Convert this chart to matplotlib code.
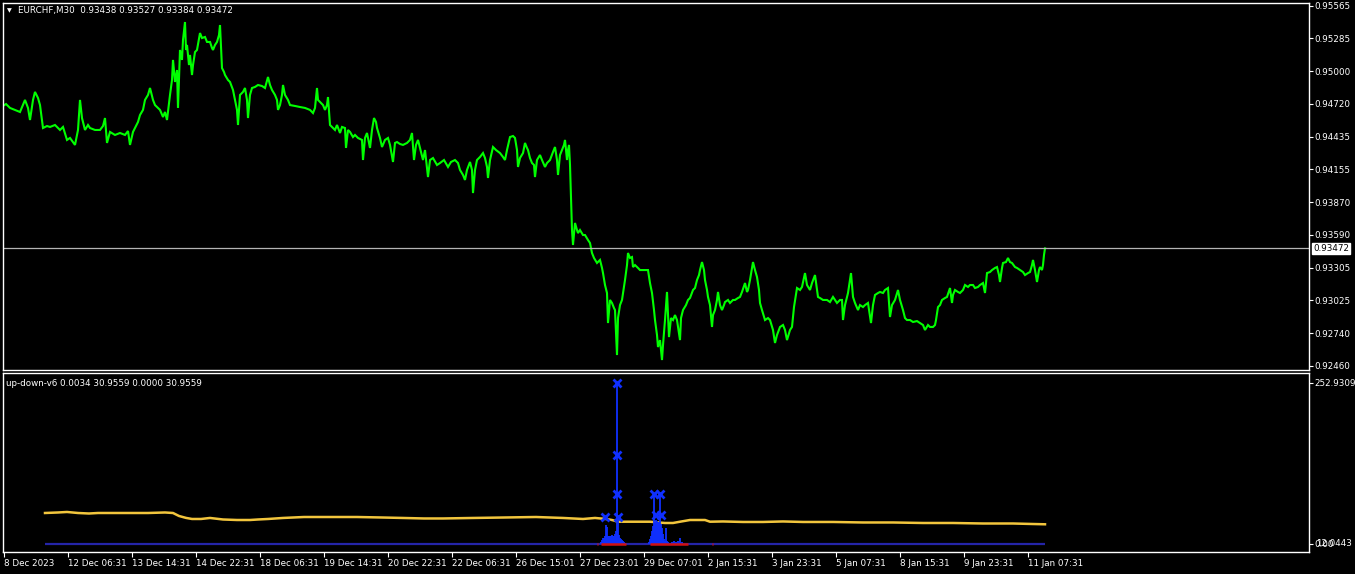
import matplotlib
matplotlib.use("Agg")
import matplotlib.pyplot as plt
from matplotlib.transforms import blended_transform_factory

# ---------------- data ----------------
price_bar = [0,3,7,12,17,22,25,27,30,32,35,37,40,44,47,52,57,60,64,67,72,75,77,79,82,85,87,92,97,100,102,104,107,112,117,122,125,127,130,132,135,137,140,142,145,147,150,152,155,157,160,162,164,167,169,170,172,174,175,177,179,180,182,183,184,186,187,189,190,192,194,197,199,202,204,207,209,210,212,214,216,217,219,221,222,225,227,230,232,234,235,237,240,242,244,245,247,249,252,255,259,262,265,267,269,272,274,275,277,279,280,282,285,287,292,297,302,307,310,312,314,315,317,320,322,324,325,327,330,332,334,337,339,342,343,345,347,350,352,355,359,360,362,364,367,369,371,373,374,377,379,382,385,387,390,392,394,397,400,404,407,409,411,413,415,417,420,422,425,427,430,434,437,441,445,448,452,455,457,460,462,464,467,469,470,472,474,477,480,482,484,485,487,490,493,497,500,502,504,507,510,512,514,515,517,520,522,524,525,527,529,531,532,534,537,539,542,544,547,550,552,554,555,557,559,561,562,564,565,566,567,568,569,570,572,574,575,577,580,582,585,587,589,591,594,597,599,600,602,604,605,607,609,611,612,614,615,617,619,622,624,625,627,629,630,632,635,637,641,645,647,649,651,652,654,655,657,659,660,662,664,666,668,670,672,674,677,678,680,683,685,687,690,692,694,696,697,699,701,702,704,705,707,709,710,712,714,715,717,719,721,722,725,727,730,732,735,737,739,742,744,745,747,750,752,754,756,757,759,762,765,767,770,772,774,777,780,782,784,787,789,791,794,797,799,802,804,807,809,812,814,815,817,820,824,827,830,834,837,839,840,842,845,848,850,852,855,857,860,862,865,868,870,872,875,877,880,882,885,887,889,892,895,897,900,902,904,907,910,914,917,920,922,925,927,930,932,933,935,937,939,942,944,947,949,950,952,955,957,960,962,965,967,970,972,975,977,980,982,984,987,989,992,994,996,997,999,1000,1003,1005,1007,1009,1012,1014,1017,1020,1022,1025,1027,1029,1030,1032,1034,1036,1037,1039,1040,1041,1042]
price_close = [0.94700,0.94717,0.94683,0.94666,0.94648,0.94752,0.94683,0.94579,0.94752,0.94821,0.94769,0.94708,0.94510,0.94527,0.94519,0.94536,0.94493,0.94519,0.94407,0.94424,0.94364,0.94493,0.94752,0.94596,0.94493,0.94536,0.94510,0.94493,0.94493,0.94527,0.94596,0.94381,0.94476,0.94450,0.94467,0.94450,0.94484,0.94364,0.94476,0.94510,0.94562,0.94622,0.94666,0.94752,0.94795,0.94855,0.94752,0.94708,0.94683,0.94666,0.94605,0.94648,0.94579,0.94795,0.94924,0.95097,0.94907,0.95010,0.94683,0.95183,0.95097,0.95269,0.95424,0.95183,0.95226,0.95053,0.95140,0.94967,0.95053,0.95165,0.95183,0.95329,0.95286,0.95295,0.95252,0.95252,0.95200,0.95183,0.95226,0.95252,0.95312,0.95398,0.95027,0.94993,0.94967,0.94924,0.94907,0.94838,0.94752,0.94666,0.94536,0.94795,0.94821,0.94855,0.94752,0.94596,0.94795,0.94855,0.94864,0.94881,0.94872,0.94855,0.94950,0.94881,0.94838,0.94795,0.94752,0.94666,0.94708,0.94795,0.94881,0.94795,0.94752,0.94708,0.94700,0.94691,0.94683,0.94666,0.94639,0.94683,0.94855,0.94752,0.94734,0.94708,0.94666,0.94708,0.94777,0.94536,0.94510,0.94493,0.94536,0.94467,0.94519,0.94510,0.94338,0.94493,0.94476,0.94432,0.94450,0.94424,0.94407,0.94234,0.94424,0.94467,0.94338,0.94493,0.94596,0.94562,0.94510,0.94424,0.94346,0.94407,0.94424,0.94364,0.94217,0.94381,0.94389,0.94372,0.94364,0.94381,0.94407,0.94467,0.94234,0.94364,0.94407,0.94338,0.94234,0.94320,0.94087,0.94234,0.94251,0.94191,0.94208,0.94234,0.94174,0.94217,0.94234,0.94208,0.94148,0.94105,0.94062,0.94148,0.94217,0.94148,0.93949,0.94148,0.94234,0.94260,0.94294,0.94251,0.94174,0.94079,0.94234,0.94346,0.94320,0.94294,0.94260,0.94234,0.94320,0.94432,0.94441,0.94424,0.94320,0.94174,0.94251,0.94294,0.94381,0.94338,0.94320,0.94251,0.94208,0.94191,0.94087,0.94234,0.94277,0.94234,0.94174,0.94208,0.94234,0.94303,0.94346,0.94234,0.94105,0.94277,0.94320,0.94364,0.94407,0.94234,0.94320,0.94364,0.94191,0.93915,0.93630,0.93501,0.93691,0.93630,0.93604,0.93630,0.93587,0.93587,0.93544,0.93518,0.93432,0.93389,0.93346,0.93372,0.93303,0.93259,0.93156,0.93087,0.92828,0.93027,0.93001,0.92957,0.92940,0.92552,0.92871,0.92983,0.93027,0.93199,0.93328,0.93432,0.93389,0.93397,0.93311,0.93328,0.93303,0.93285,0.93285,0.93285,0.93173,0.93087,0.92940,0.92854,0.92725,0.92621,0.92681,0.92509,0.92638,0.92854,0.93096,0.92707,0.92871,0.92854,0.92897,0.92854,0.92681,0.92871,0.92940,0.92983,0.93027,0.93044,0.93113,0.93130,0.93199,0.93242,0.93285,0.93354,0.93285,0.93199,0.93113,0.93053,0.92983,0.92794,0.92897,0.92940,0.93027,0.93096,0.92983,0.92940,0.92983,0.93009,0.93027,0.93001,0.93027,0.93027,0.93044,0.93053,0.93096,0.93173,0.93096,0.93113,0.93199,0.93354,0.93285,0.93225,0.93113,0.93001,0.92940,0.92854,0.92871,0.92854,0.92768,0.92656,0.92725,0.92794,0.92811,0.92768,0.92681,0.92768,0.92794,0.92966,0.93130,0.93113,0.93139,0.93259,0.93156,0.93113,0.93173,0.93242,0.93113,0.93053,0.93044,0.93027,0.93027,0.93009,0.93053,0.93001,0.93027,0.93027,0.92854,0.92983,0.93087,0.93259,0.93053,0.93001,0.92940,0.92983,0.92966,0.92983,0.93001,0.92828,0.92983,0.93070,0.93087,0.93096,0.93087,0.93113,0.93130,0.92880,0.92983,0.93027,0.93113,0.93027,0.92940,0.92871,0.92854,0.92854,0.92837,0.92845,0.92828,0.92811,0.92768,0.92811,0.92794,0.92794,0.92811,0.92854,0.92966,0.92983,0.93027,0.93044,0.93053,0.93130,0.93001,0.93070,0.93113,0.93096,0.93087,0.93113,0.93156,0.93139,0.93156,0.93156,0.93130,0.93139,0.93156,0.93173,0.93087,0.93259,0.93268,0.93285,0.93303,0.93311,0.93242,0.93182,0.93303,0.93346,0.93354,0.93389,0.93354,0.93346,0.93311,0.93303,0.93285,0.93268,0.93242,0.93259,0.93268,0.93328,0.93372,0.93285,0.93182,0.93285,0.93311,0.93285,0.93328,0.93415,0.93472]

last_price = 0.93472
price_ticks = [0.95565, 0.95285, 0.95000, 0.94720, 0.94435, 0.94155, 0.93870, 0.93590, 0.93305, 0.93025, 0.92740, 0.92460]

time_tick_bar = [1, 65, 129, 193, 257, 321, 385, 449, 513, 577, 641, 705, 769, 833, 897, 961, 1025]
time_tick_label = ["8 Dec 2023", "12 Dec 06:31", "13 Dec 14:31", "14 Dec 22:31", "18 Dec 06:31",
                   "19 Dec 14:31", "20 Dec 22:31", "22 Dec 06:31", "26 Dec 15:01", "27 Dec 23:01",
                   "29 Dec 07:01", "2 Jan 15:31", "3 Jan 23:31", "5 Jan 07:31", "8 Jan 15:31",
                   "9 Jan 23:31", "11 Jan 07:31"]

# indicator: yellow line
yellow_bar = [42,55,64,75,86,95,120,145,162,170,176,183,189,198,207,220,234,247,255,265,280,301,330,354,380,400,421,440,470,500,533,560,580,592,603,609,615,647,662,670,677,687,702,707,720,740,760,780,800,830,860,890,920,950,980,1010,1030,1042]
yellow_val = [48.7,49.5,50.3,48.7,47.9,48.7,48.7,48.7,49.5,48.7,44.0,41.0,39.3,39.3,40.9,38.5,37.7,37.7,38.5,39.3,40.9,42.4,42.4,42.4,41.6,40.9,40.1,40.1,40.9,41.6,42.4,40.9,39.3,40.9,39.3,37.7,35.0,35.0,33.0,33.0,35.0,37.7,37.7,35.0,35.4,34.6,34.6,35.4,34.6,34.6,33.8,33.8,33.0,33.0,32.2,32.2,31.4,30.96]

# indicator: blue histogram
blue_bar = [598,599,600,601,602,603,604,605,606,607,608,609,610,611,612,613,614,615,616,617,618,619,620,621,622,
            646,647,648,649,650,651,652,653,654,655,656,657,658,659,660,661,662,663,664,665,
            667,669,671,673,675,677,679]
blue_val = [3,6,9,10,12,30,27,12,13,12,13,14,12,13,15,20,252.9309,42,14,10,8,6,5,3,2,
            3,8,12,20,28,78.6,35,38,36,34,35,78.6,32,25,15,8,5,25,4,3,
            2,3,4,3,5,9,3]

# indicator: X arrows
mark_bar = [614, 614, 614, 615, 602, 651, 657, 653, 658]
mark_val = [252.9309, 139.8, 78.6, 42.4, 42.4, 78.6, 78.6, 45.0, 45.0]

# indicator: red zero-line segments
red_start = [594, 598, 647, 709]
red_end = [595, 623, 685, 710]

base_start, base_end = 42, 1042
ind_max = 252.9309

# ---------------- figure ----------------
W, H = 1355, 574
fig = plt.figure(figsize=(W / 100, H / 100), dpi=100, facecolor="black")
FS = 6.3
FONT = "DejaVu Sans"

ax1 = fig.add_axes([3 / W, (H - 370) / H, 1306 / W, 367 / H], facecolor="black")
ax2 = fig.add_axes([3 / W, (H - 552) / H, 1306 / W, 179 / H], facecolor="black")

for ax in (ax1, ax2):
    for s in ax.spines.values():
        s.set_color("white")
        s.set_linewidth(1.0)
    ax.set_xlim(0, 1306)

# top panel
ax1.plot(price_bar, price_close, color="#00ff00", lw=1.5, solid_joinstyle="miter")
ax1.axhline(last_price, color="#b4b4b4", lw=0.9)
ax1.set_ylim(0.92423, 0.95588)
ax1.set_xticks([])
ax1.yaxis.tick_right()
ax1.set_yticks(price_ticks)
ax1.set_yticklabels([f"{v:.5f}" for v in price_ticks])
ax1.tick_params(axis="y", colors="white", labelcolor="white", length=2.6, width=0.8,
                pad=1.6, labelsize=FS)
tr = blended_transform_factory(ax1.transAxes, ax1.transData)
ax1.text(1.0 + 4 / 1306, last_price, f"{last_price:.5f}", transform=tr, ha="left", va="center",
         fontsize=FS, family=FONT, color="black",
         bbox=dict(boxstyle="square,pad=0.15", fc="white", ec="white"))

fig.text(7 / W, 1 - 11 / H, "\u25BC", fontsize=4.5, color="white", va="center", ha="left", family=FONT)
fig.text(18 / W, 1 - 11 / H, "EURCHF,M30  0.93438 0.93527 0.93384 0.93472",
         fontsize=FS, color="white", va="center", ha="left", family=FONT)

# bottom panel
ax2.set_ylim(-12.57, 268.6)
ax2.hlines(0, base_start, base_end, color="#2424a8", lw=1.6, zorder=2)
ax2.plot(yellow_bar, yellow_val, color="#f2c53d", lw=1.8, zorder=3)
ax2.vlines(blue_bar, 0, blue_val, color="#1030ff", lw=1.3, zorder=4)
ax2.plot(mark_bar, mark_val, linestyle="none", marker="x", color="#1030ff", ms=6, mew=2.0, zorder=5)
ax2.hlines([0] * len(red_start), red_start, red_end, color="#d01010", lw=1.8, zorder=6)

ax2.yaxis.tick_right()
ax2.set_yticks([0, ind_max])
ax2.set_yticklabels(["0.00", f"{ind_max:.4f}"])
ax2.tick_params(axis="y", colors="white", labelcolor="white", length=2.6, width=0.8,
                pad=1.6, labelsize=FS)
ax2.text(1.0 + 7 / 1306, 0.6, "12.0443", transform=blended_transform_factory(ax2.transAxes, ax2.transData),
         ha="left", va="center", fontsize=FS, family=FONT, color="white")

ax2.set_xticks(time_tick_bar)
ax2.set_xticklabels(time_tick_label)
ax2.tick_params(axis="x", colors="white", labelcolor="white", length=3.5, width=0.8,
                pad=1.5, labelsize=FS)
for lbl in ax2.get_xticklabels():
    lbl.set_ha("left")
    lbl.set_family(FONT)

fig.text(6 / W, 1 - 383 / H, "up-down-v6 0.0034 30.9559 0.0000 30.9559",
         fontsize=FS, color="white", va="center", ha="left", family=FONT)

fig.savefig("out.png", dpi=100, facecolor="black")
